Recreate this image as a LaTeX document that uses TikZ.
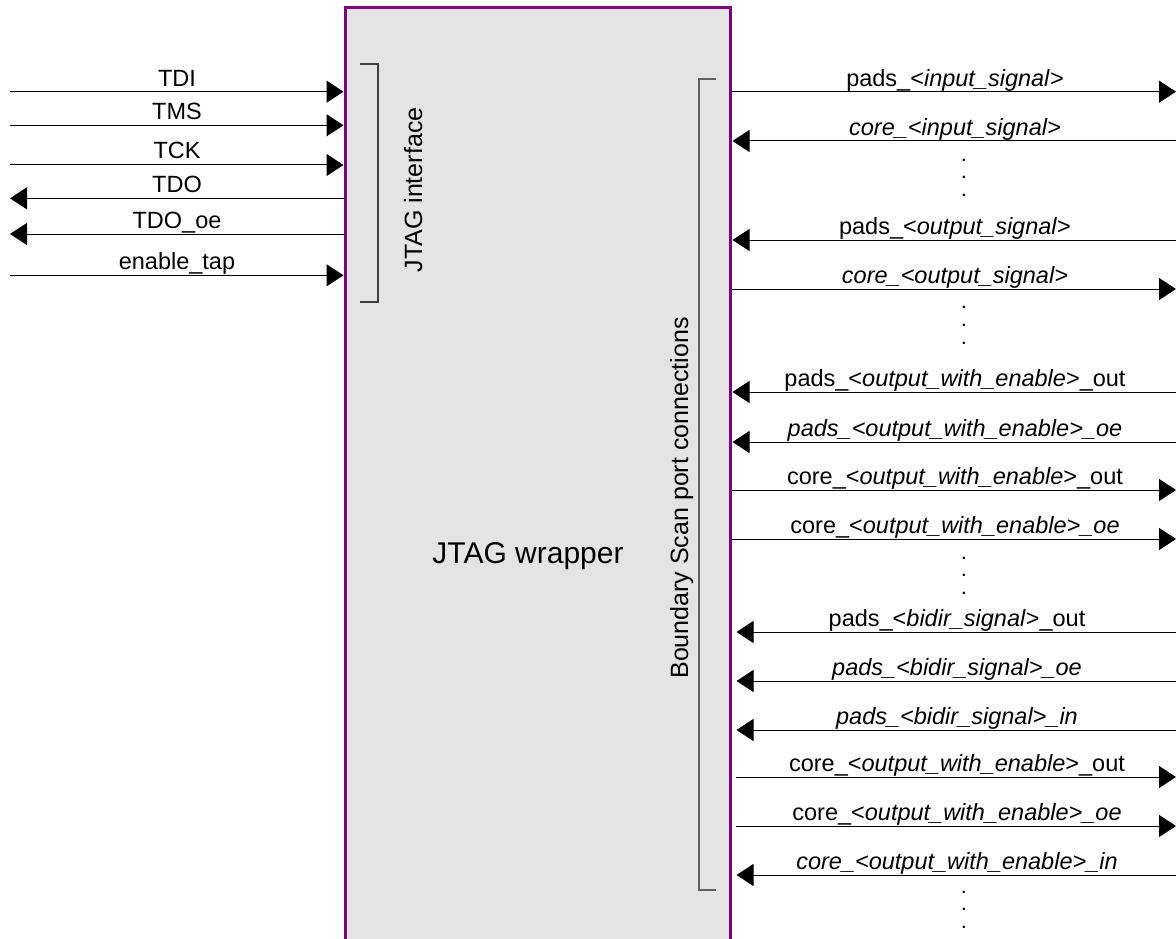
\documentclass[tikz,border=0pt]{standalone}
\usepackage{fontspec}
\setmainfont{Liberation Sans}
\usetikzlibrary{arrows.meta}
\definecolor{boxgray}{HTML}{E4E4E4}
\definecolor{wrapborder}{HTML}{800080}
\definecolor{brk}{HTML}{606060}
\begin{document}
\begin{tikzpicture}[x=1pt,y=-1pt,
  sig/.style={line width=1pt, -{Triangle[length=17pt,width=22pt]}},
  lbl/.style={anchor=base, inner sep=0pt, font=\fontsize{23.5}{26}\selectfont},
  rot/.style={anchor=base, inner sep=0pt, rotate=90, font=\fontsize{25}{28}\selectfont},
  dotcol/.style={anchor=base, inner sep=0pt, align=center, font=\fontsize{15}{17.7}\selectfont\bfseries},
  bracket/.style={draw=brk, line width=1.2pt}]
\useasboundingbox (0,0) rectangle (1176,939);
\clip (0,0) rectangle (1176,939);
% wrapper box
\node (wrap) [draw=wrapborder, fill=boxgray, line width=3pt, minimum width=385pt, minimum height=960pt, inner sep=0pt] at (537.5,488) {};
\node (title) [anchor=base, inner sep=0pt, font=\fontsize{30}{34}\selectfont] at (528,563) {JTAG wrapper};
% brackets
\coordinate (jb1) at (360,64);
\coordinate (jb2) at (360,302);
\draw[bracket, draw=black!75] (jb1) -- (jb1 -| 378,0) -- (jb2 -| 378,0) -- (jb2);
\coordinate (bb1) at (716,79);
\coordinate (bb2) at (716,890);
\draw[bracket] (bb1) -- (bb1 -| 699,0) -- (bb2 -| 699,0) -- (bb2);
\node[rot] (jtagif) at (422,190) {JTAG interface};
\node[rot] (bscan) at (688,498) {Boundary Scan port connections};
% left signals
\coordinate (tdiS) at (10,91.7);
\coordinate (tmsS) at (10,125.3);
\coordinate (tckS) at (10,165);
\coordinate (tdoS) at (10,198.3);
\coordinate (tdooeS) at (10,234);
\coordinate (entapS) at (10,275.3);
\draw[sig] (tdiS) -- (tdiS -| wrap.west);
\draw[sig] (tmsS) -- (tmsS -| wrap.west);
\draw[sig] (tckS) -- (tckS -| wrap.west);
\draw[sig] (tdoS -| wrap.west) -- (tdoS);
\draw[sig] (tdooeS -| wrap.west) -- (tdooeS);
\draw[sig] (entapS) -- (entapS -| wrap.west);
\node[lbl] (tdiL) at (177,86.2) {TDI};
\node[lbl] (tmsL) at (177,119.8) {TMS};
\node[lbl] (tckL) at (177,159.0) {TCK};
\node[lbl] (tdoL) at (177,192.5) {TDO};
\node[lbl] (tdooeL) at (177,228.3) {TDO\_oe};
\node[lbl] (entapL) at (177,269.8) {enable\_tap};
% right signals, upper group
\coordinate (r1) at (1176,91.7);
\coordinate (r2) at (1176,141);
\coordinate (r3) at (1176,240);
\coordinate (r4) at (1176,289);
\coordinate (r5) at (1176,392);
\coordinate (r6) at (1176,442);
\coordinate (r7) at (1176,490);
\coordinate (r8) at (1176,539);
\draw[sig] (r1 -| wrap.east) -- (r1);
\draw[sig] (r2) -- ([xshift=1pt]r2 -| wrap.east);
\draw[sig] (r3) -- ([xshift=1pt]r3 -| wrap.east);
\draw[sig] (r4 -| wrap.east) -- (r4);
\draw[sig] (r5) -- ([xshift=1pt]r5 -| wrap.east);
\draw[sig] (r6) -- ([xshift=1pt]r6 -| wrap.east);
\draw[sig] (r7 -| wrap.east) -- (r7);
\draw[sig] (r8 -| wrap.east) -- (r8);
\node[lbl] (r1L) at (955,86.2) {pads\_<\textit{input\_signal}>};
\node[lbl] (r2L) at (955,135.5) {\textit{core\_<input\_signal>}};
\node[lbl] (r3L) at (955,234.5) {pads\_<\textit{output\_signal}>};
\node[lbl] (r4L) at (955,283.5) {\textit{core\_<output\_signal>}};
\node[lbl] (r5L) at (955,386.5) {pads\_<\textit{output\_with\_enable}>\_out};
\node[lbl] (r6L) at (955,436.5) {\textit{pads\_<output\_with\_enable>\_oe}};
\node[lbl] (r7L) at (955,484.5) {core\_<\textit{output\_with\_enable}>\_out};
\node[lbl] (r8L) at (955,533.5) {core\_<\textit{output\_with\_enable>\_oe}};
% right signals, lower group
\coordinate (r9) at (1176,632);
\coordinate (r10) at (1176,681);
\coordinate (r11) at (1176,730);
\coordinate (r12) at (1176,777);
\coordinate (r13) at (1176,826);
\coordinate (r14) at (1176,875);
\draw[sig] (r9) -- ([xshift=5pt]r9 -| wrap.east);
\draw[sig] (r10) -- ([xshift=5pt]r10 -| wrap.east);
\draw[sig] (r11) -- ([xshift=5pt]r11 -| wrap.east);
\draw[sig] ([xshift=4pt]r12 -| wrap.east) -- (r12);
\draw[sig] ([xshift=4pt]r13 -| wrap.east) -- (r13);
\draw[sig] (r14) -- ([xshift=5pt]r14 -| wrap.east);
\node[lbl] (r9L) at (957,626.5) {pads\_<\textit{bidir\_signal}>\_out};
\node[lbl] (r10L) at (957,675.5) {\textit{pads\_<bidir\_signal>\_oe}};
\node[lbl] (r11L) at (957,724.5) {\textit{pads\_<bidir\_signal>\_in}};
\node[lbl] (r12L) at (957,771.5) {core\_<\textit{output\_with\_enable}>\_out};
\node[lbl] (r13L) at (957,820.5) {core\_<\textit{output\_with\_enable>\_oe}};
\node[lbl] (r14L) at (957,869.5) {\textit{core\_<output\_with\_enable>\_in}};
% continuation dots (anchor = baseline of the last line)
\node[dotcol] (d1) at (964,196.6) {.\\.\\.};
\node[dotcol] (d2) at (964,344.1) {.\\.\\.};
\node[dotcol] (d3) at (964,594.6) {.\\.\\.};
\node[dotcol] (d4) at (964,928.6) {.\\.\\.};
\end{tikzpicture}
\end{document}
